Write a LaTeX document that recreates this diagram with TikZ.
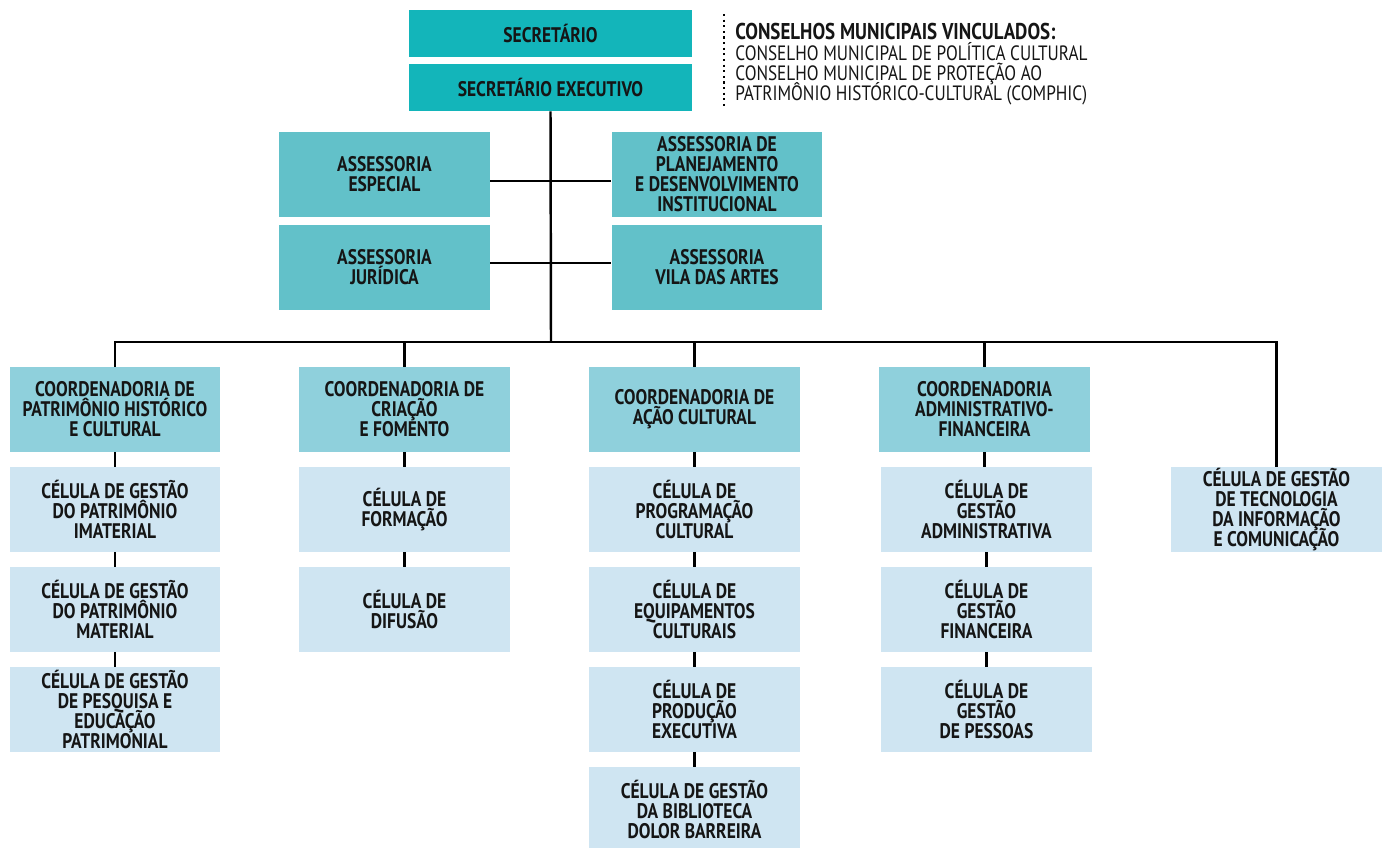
\documentclass[tikz,border=0pt]{standalone}
\usepackage{fontspec}
\setmainfont{PT Sans}[FakeStretch=0.83]
\usepackage{xcolor}
\usepackage{tikz}
\usetikzlibrary{calc}

\definecolor{corSec}{HTML}{13B5BA}
\definecolor{corAss}{HTML}{62C1C9}
\definecolor{corCoord}{HTML}{8FD0DC}
\definecolor{corCel}{HTML}{CFE5F2}
\definecolor{corTexto}{HTML}{151515}

\begin{document}
\lineskiplimit=-\maxdimen
\begin{tikzpicture}[
		x=0.02cm, y=-0.02cm,
		caixa/.style={
			minimum width=4.22cm,
			minimum height=1.7cm,
			inner sep=0pt,
			align=center,
			text=corTexto,
			font=\bfseries\fontsize{12}{11.4}\selectfont
			},
		sec/.style={caixa, fill=corSec, minimum width=5.66cm, minimum height=0.94cm},
		ass/.style={caixa, fill=corAss},
		coord/.style={caixa, fill=corCoord},
		cel/.style={caixa, fill=corCel},
		liga/.style={line width=1.4pt, color=black}
		]
		
		\useasboundingbox (0,0) rectangle (1386,848);
		
		% topo
		\node[sec] (secretario) at (550.5,33.5) {SECRETÁRIO};
		\node[sec] (executivo) at (550.5,87.5) {SECRETÁRIO EXECUTIVO};
		
		\draw[dotted, line width=1.2pt] (724,14) -- (724,108);
		\node[anchor=north west, align=left, inner sep=0pt, text=corTexto, font=\fontsize{11.8}{11.6}\selectfont] (conselhos) at (735,23)
			{{\fontsize{13}{11.6}\selectfont\bfseries CONSELHOS MUNICIPAIS VINCULADOS:}\\
			CONSELHO MUNICIPAL DE POLÍTICA CULTURAL\\
			CONSELHO MUNICIPAL DE PROTEÇÃO AO\\
			PATRIMÔNIO HISTÓRICO-CULTURAL (COMPHIC)};
		
		% assessorias
		\node[ass] (especial) at (384.5,174.5) {ASSESSORIA\\ESPECIAL};
		\node[ass] (juridica) at (384.5,267.5) {ASSESSORIA\\JURÍDICA};
		\node[ass] (planejamento) at (717,174.5) {ASSESSORIA DE\\PLANEJAMENTO\\E DESENVOLVIMENTO\\INSTITUCIONAL};
		\node[ass] (vila) at (717,267.5) {ASSESSORIA\\VILA DAS ARTES};
		
		% coordenadorias
		\node[coord] (patrimonio) at (115,409.5) {COORDENADORIA DE\\PATRIMÔNIO HISTÓRICO\\E CULTURAL};
		\node[coord] (criacao) at (404.5,409.5) {COORDENADORIA DE\\CRIAÇÃO\\E FOMENTO};
		\node[coord] (acao) at (694.5,409.5) {COORDENADORIA DE\\AÇÃO CULTURAL};
		\node[coord] (administrativo) at (984.5,409.5) {COORDENADORIA\\ADMINISTRATIVO-\\FINANCEIRA};
		
		% celulas
		\node[cel] (imaterial) at (115,509.5) {CÉLULA DE GESTÃO\\DO PATRIMÔNIO\\IMATERIAL};
		\node[cel] (material) at (115,609.5) {CÉLULA DE GESTÃO\\DO PATRIMÔNIO\\MATERIAL};
		\node[cel] (pesquisa) at (115,709.5) {CÉLULA DE GESTÃO\\DE PESQUISA E\\EDUCAÇÃO\\PATRIMONIAL};
		
		\node[cel] (formacao) at (404.5,509.5) {CÉLULA DE\\FORMAÇÃO};
		\node[cel] (difusao) at (404.5,609.5) {CÉLULA DE\\DIFUSÃO};
		
		\node[cel] (programacao) at (694.5,509.5) {CÉLULA DE\\PROGRAMAÇÃO\\CULTURAL};
		\node[cel] (equipamentos) at (694.5,609.5) {CÉLULA DE\\EQUIPAMENTOS\\CULTURAIS};
		\node[cel] (producao) at (694.5,709.5) {CÉLULA DE\\PRODUÇÃO\\EXECUTIVA};
		\node[cel] (biblioteca) at (694.5,809.5) {CÉLULA DE GESTÃO\\DA BIBLIOTECA\\DOLOR BARREIRA};
		
		\node[cel] (gestadm) at (986.5,509.5) {CÉLULA DE\\GESTÃO\\ADMINISTRATIVA};
		\node[cel] (financeira) at (986.5,609.5) {CÉLULA DE\\GESTÃO\\FINANCEIRA};
		\node[cel] (pessoas) at (986.5,709.5) {CÉLULA DE\\GESTÃO\\DE PESSOAS};
		
		\node[cel] (tecnologia) at (1276.5,509.5) {CÉLULA DE GESTÃO\\DE TECNOLOGIA\\DA INFORMAÇÃO\\E COMUNICAÇÃO};
		
		% ligacoes
		\coordinate (barra) at (551,342);
		\draw[liga] (executivo.south) -- (barra);
		\draw[liga] ([yshift=-0.13cm]especial.east) -- ([yshift=-0.13cm]planejamento.west);
		\draw[liga] ([yshift=0.09cm]juridica.east) -- ([yshift=0.09cm]vila.west);
		\draw[liga] (patrimonio.north) |- (barra) -| (tecnologia.north);
		\draw[liga] (criacao.north) -- (criacao.north |- barra);
		\draw[liga] (acao.north) -- (acao.north |- barra);
		\draw[liga] (administrativo.north) -- (administrativo.north |- barra);
		
		\draw[liga] (patrimonio.south) -- (imaterial.north) (imaterial.south) -- (material.north) (material.south) -- (pesquisa.north);
		\draw[liga] (criacao.south) -- (formacao.north) (formacao.south) -- (difusao.north);
		\draw[liga] (acao.south) -- (programacao.north) (programacao.south) -- (equipamentos.north) (equipamentos.south) -- (producao.north) (producao.south) -- (biblioteca.north);
		\draw[liga] (administrativo.south) -- (administrativo.south |- gestadm.north) (gestadm.south) -- (financeira.north) (financeira.south) -- (pessoas.north);
	\end{tikzpicture}
\end{document}
